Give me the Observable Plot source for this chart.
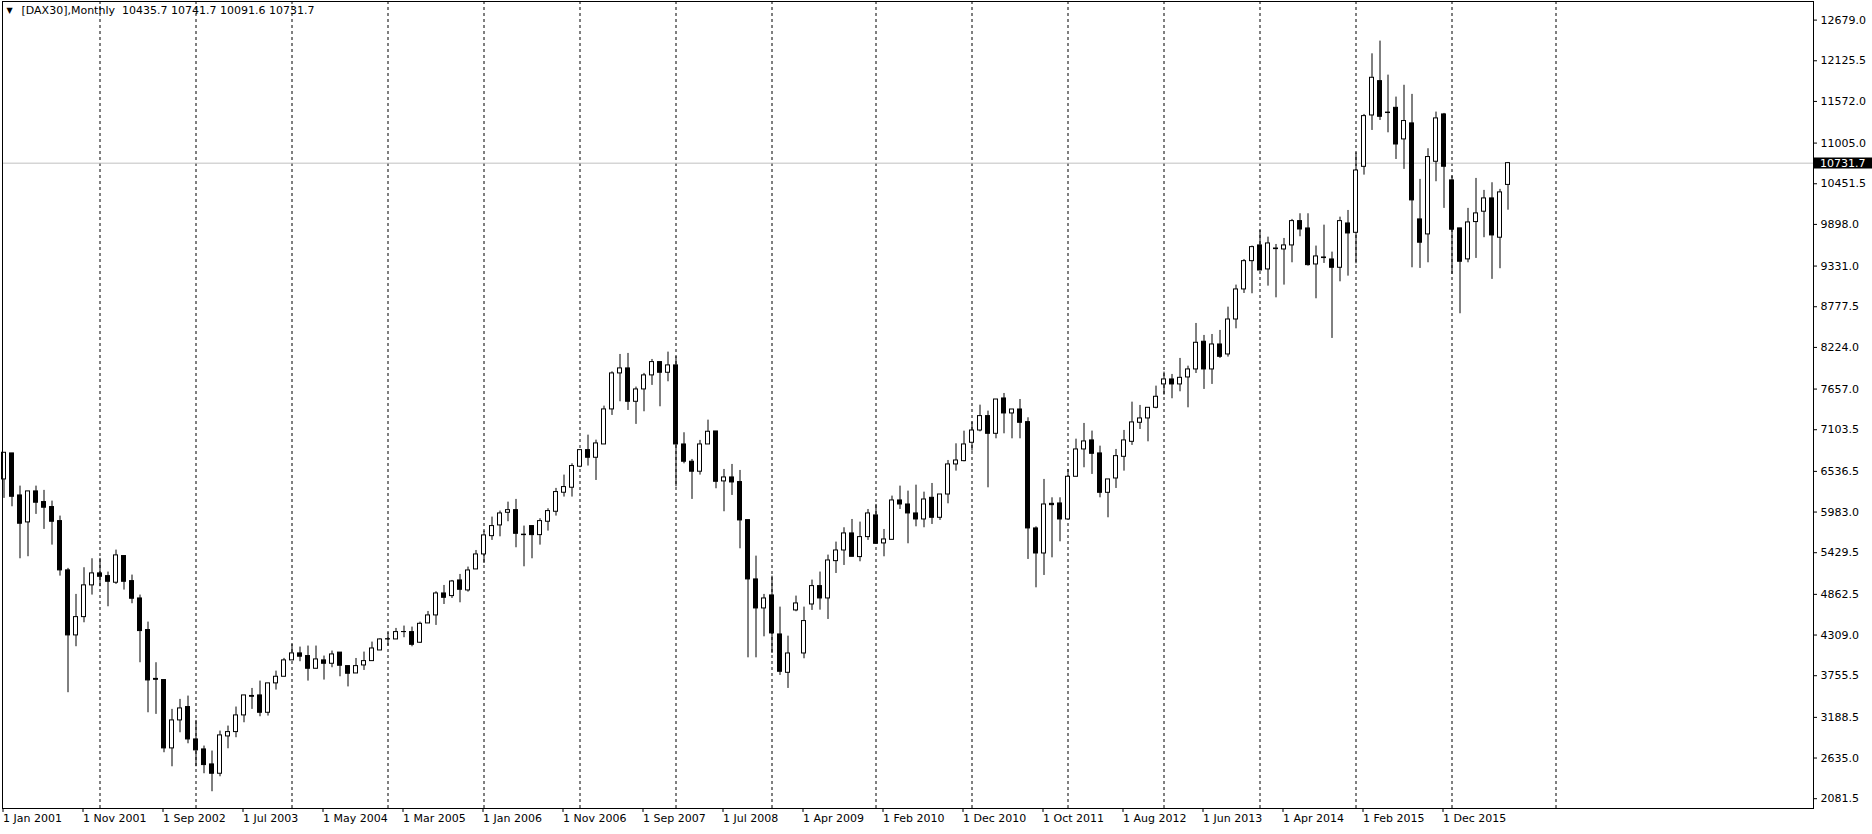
<!DOCTYPE html>
<html>
<head>
<meta charset="utf-8">
<script src="https://cdn.jsdelivr.net/npm/d3@7"></script>
<script src="https://cdn.jsdelivr.net/npm/@observablehq/plot@0.6"></script>
<style>
  html, body { margin: 0; padding: 0; background: #fff; overflow: hidden; }
  #chart { position: relative; width: 1872px; height: 834px; }
</style>
</head>
<body>
<div id="chart"></div>
<script>
// DAX30 monthly bars (bar index 0 = Jan 2001)
const opens = [
6427,6781,6209,5842,6264,6119,6051,5860,5189,4304,4553,4985,5148,5111,5021,5384,5043,4807,4377,3712,
3696,2766,3147,3329,2888,2752,2548,2421,2929,2988,3215,3480,3487,3251,3651,3741,3964,4059,4023,3850,
3964,3918,4070,3886,3786,3895,3954,4099,4252,4249,4349,4349,4204,4467,4576,4875,4839,5052,4916,5202,
5406,5655,5801,5973,6009,5675,5792,5669,5851,5987,6246,6314,6600,6826,6722,6903,7380,7870,7938,7484,
7652,7843,8024,7879,7979,6903,6668,6532,6903,7080,6400,6454,6391,5873,5066,4671,4848,4317,3795,4644,
4058,4725,4975,4807,5315,5460,5692,5370,5642,5937,5556,5605,6141,6086,5964,5882,6177,5905,6222,6631,
6676,6926,7093,7289,7048,7529,7325,7379,7207,5760,5419,6095,6100,5882,6463,6835,6958,6781,6245,6440,
6735,6939,7198,7257,7402,7720,7788,7720,7815,7924,8301,7924,8264,8128,8604,9013,9398,9612,9285,9570,
9557,9612,9943,9843,9353,9448,9421,9308,9911,9784,10682,11381,11848,11420,11485,11055,11273,9966,9762,10751,
11395,10497,9844,9422,9930,10071,10252,9717,10435.7];
const highs = [
6790,6781,6336,6264,6336,6278,6132,5928,5216,4862,5225,5347,5352,5166,5465,5384,5125,4853,4485,3932,
3696,3297,3433,3478,3147,2798,2730,3002,3070,3329,3487,3582,3682,3651,3818,3991,4181,4145,4159,4159,
4023,4091,4070,3886,3990,4077,4213,4258,4340,4399,4431,4417,4485,4630,4898,4984,5052,5134,5234,5460,
5724,5914,5996,6118,6155,5792,5792,5892,6028,6305,6486,6640,6826,7030,6962,7425,7892,8128,8142,7684,
7870,8060,8024,8160,8097,7062,6699,6958,7234,7080,6563,6631,6549,5873,5383,4862,5111,4689,4294,4839,
4689,5057,5166,5397,5574,5769,5882,5846,6018,6087,5746,6200,6336,6268,6349,6254,6372,6222,6685,6912,
7084,7207,7438,7357,7515,7597,7379,7515,7266,5782,6427,6177,6177,6563,6975,7189,7085,6880,6427,6835,
7094,7479,7434,7402,7697,7888,7856,8074,7969,8550,8387,8400,8455,8772,9072,9421,9603,9816,9725,9625,
9707,9966,10043,10043,9603,9888,9521,9997,10088,10873,11395,12220,12393,11930,11631,11792,11668,10511,10928,11427,
11409,10556,9844,10116,10524,10361,10465,10375,10741.7];
const lows = [
6169,6055,5347,5375,5951,5747,5533,5111,3524,4150,4476,4853,4966,4694,4998,4921,4735,3932,3251,3229,
2707,2516,2979,2829,2516,2421,2176,2380,2761,2911,3115,3297,3197,3206,3560,3741,3964,3946,3682,3850,
3696,3864,3741,3603,3786,3827,3954,4099,4158,4249,4272,4149,4195,4467,4440,4725,4807,4748,4893,5202,
5283,5597,5646,5851,5497,5238,5347,5533,5724,5928,6187,6187,6586,6609,6413,6903,7298,7484,7366,7176,
7348,7707,7416,7756,6327,6640,6155,6486,6903,6300,5987,6209,5483,3999,3999,4285,4058,3759,3582,4626,
3986,4644,4648,4521,5147,5256,5374,5306,5597,5551,5374,5605,6018,5551,5782,5769,5814,5869,6095,6540,
6667,6812,7075,6313,6980,7048,6980,6980,5338,4952,5120,5360,5578,5882,6463,6586,6495,6177,5905,6304,
6540,6890,7107,6939,7388,7575,7525,7620,7402,7869,7652,7720,8074,8092,8477,8958,8954,9271,9058,8899,
9072,9376,9730,9330,8886,9367,8346,9117,9194,9362,10569,11177,11313,11145,10782,10647,9308,9299,9376,10479,
10116,9218,8682,9376,9435,9717,9150,9295,10091.6];
const closes = [
6790,6191,5824,6264,6110,6042,5851,5189,4304,4553,4985,5148,5102,5034,5393,5034,4803,4363,3691,3700,
2766,3147,3310,2888,2739,2539,2421,2943,2988,3215,3487,3469,3251,3651,3741,3964,4059,4014,3850,3977,
3918,4045,3891,3782,3886,3954,4126,4249,4249,4349,4350,4176,4462,4576,4875,4816,5038,4925,5188,5406,
5665,5792,5964,6009,5687,5669,5669,5860,5996,6255,6323,6609,6826,6722,6917,7380,7870,7938,7484,7652,
7843,8024,7879,7979,6903,6668,6532,6903,7076,6395,6454,6386,5869,5066,4671,4807,4331,3809,4058,4739,
4499,4975,4807,5324,5460,5692,5374,5642,5964,5551,5610,6141,6086,5964,5882,6154,5905,6222,6631,6685,
6903,7093,7289,7048,7515,7325,7379,7198,5760,5419,6086,6077,5882,6463,6835,6944,6776,6245,6427,6744,
6958,7203,7257,7402,7552,7788,7720,7810,7924,8287,7924,8264,8096,8604,9013,9398,9589,9271,9639,9562,
9612,9943,9829,9344,9462,9440,9308,9943,9775,10632,11372,11894,11363,11414,10986,11305,10225,9649,10815,11341,
10683,9826,9390,9925,10048,10252,9748,10334,10731.7];

// axis ticks as shown in the terminal
const yTicks = [2081.5,2635.0,3188.5,3755.5,4309.0,4862.5,5429.5,5983.0,6536.5,7103.5,7657.0,8224.0,8777.5,9331.0,9898.0,10451.5,11005.0,11572.0,12125.5,12679.0];
const xTickBars = [0,10,20,30,40,50,60,70,80,90,100,110,120,130,140,150,160,170,180];
const xTickLabels = ["1 Jan 2001","1 Nov 2001","1 Sep 2002","1 Jul 2003","1 May 2004","1 Mar 2005","1 Jan 2006","1 Nov 2006","1 Sep 2007","1 Jul 2008","1 Apr 2009","1 Feb 2010","1 Dec 2010","1 Oct 2011","1 Aug 2012","1 Jun 2013","1 Apr 2014","1 Feb 2015","1 Dec 2015"];
// period separators (year starts), as bar indices
const separatorBars = [12,24,36,48,60,72,84,96,109,121,133,145,157,169,181,194];

const symbolTitle = "[DAX30],Monthly";
const lastBar = {o: opens[opens.length-1], h: highs[highs.length-1], l: lows[lows.length-1], c: closes[closes.length-1]};

const table = opens.map((o, i) => ({i, o, h: highs[i], l: lows[i], c: closes[i]}));

const W = 1872, H = 834;
const mL = 2, mR = 59, mT = 1, mB = 26;
const barPx = 8, firstBarPx = 3.5;
const xDomain = [(mL - firstBarPx) / barPx, (W - mR - firstBarPx) / barPx];
const yDomain = [1948, 12932.2];

const priceLabel = (index, scales, values, dims) => {
  const g = d3.create("svg:g");
  const y = scales.y(lastBar.c);
  const x0 = dims.width - dims.marginRight + 1;
  g.append("rect").attr("x", x0).attr("y", Math.round(y) - 5.5).attr("width", dims.marginRight - 1).attr("height", 11).attr("fill", "black");
  g.append("text").attr("x", x0 + 6).attr("y", Math.round(y)).attr("dy", "0.36em")
    .attr("text-anchor", "start")
    .attr("fill", "white").attr("font-size", 11).attr("font-family", "DejaVu Sans")
    .text(lastBar.c.toFixed(1));
  return g.node();
};

const headerText = symbolTitle + "\u00a0\u00a0" + [lastBar.o, lastBar.h, lastBar.l, lastBar.c].map(v => v.toFixed(1)).join(" ");

const chart = Plot.plot({
  width: W, height: H,
  marginLeft: mL, marginRight: mR, marginTop: mT, marginBottom: mB,
  style: {fontFamily: "DejaVu Sans", fontSize: "11px", background: "white", color: "black"},
  x: {type: "linear", domain: xDomain, label: null},
  y: {type: "linear", domain: yDomain, label: null},
  color: {type: "identity"},
  marks: [
    Plot.ruleX(separatorBars, {stroke: "black", strokeDasharray: "3,3", strokeWidth: 1}),
    Plot.ruleY([lastBar.c], {stroke: "#c0c0c0", strokeWidth: 1}),
    Plot.ruleX(table, {x: "i", y1: "l", y2: "h", stroke: "black", strokeWidth: 1}),
    Plot.rect(table, {
      x1: d => d.i - 0.25, x2: d => d.i + 0.25,
      y1: d => Math.min(d.o, d.c), y2: d => Math.max(d.o, d.c),
      fill: d => d.c >= d.o ? "white" : "black",
      stroke: "black", strokeWidth: 1
    }),
    Plot.axisY(yTicks, {anchor: "right", label: null, tickSize: 3, tickPadding: 4, tickFormat: d => d.toFixed(1), fontSize: 11, fill: "black", stroke: "black"}),
    Plot.axisX(xTickBars, {anchor: "bottom", label: null, tickSize: 4, tickPadding: 2, tickFormat: (d, i) => xTickLabels[i], textAnchor: "start", dx: -1, fontSize: 11, fill: "black"}),
    Plot.frame({stroke: "black"}),
    Plot.text([headerText], {frameAnchor: "top-left", dx: 19, dy: 5, text: d => d, textAnchor: "start", lineAnchor: "top", fontSize: 11, fill: "black"}),
    Plot.text(["\u25BC"], {frameAnchor: "top-left", dx: 4, dy: 6, text: d => d, textAnchor: "start", lineAnchor: "top", fontSize: 8, fill: "black"}),
    priceLabel
  ]
});
document.getElementById("chart").appendChild(chart);
</script>
</body>
</html>
